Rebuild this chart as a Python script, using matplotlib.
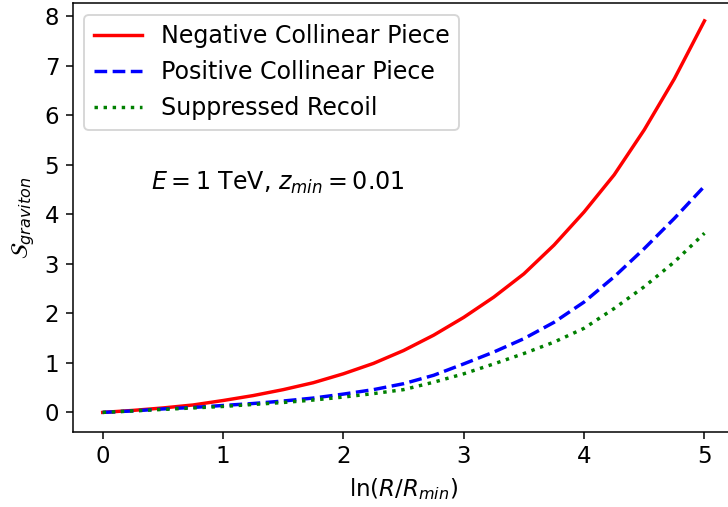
import numpy as np
import matplotlib
matplotlib.use("Agg")
import matplotlib.pyplot as plt

# ln(R/Rmin) grid, step 0.25
x = [0.0, 0.25, 0.5, 0.75, 1.0, 1.25, 1.5, 1.75, 2.0, 2.25, 2.5,
     2.75, 3.0, 3.25, 3.5, 3.75, 4.0, 4.25, 4.5, 4.75, 5.0]

negative = [0.0, 0.04, 0.09, 0.15, 0.24, 0.34, 0.46, 0.60, 0.78, 0.99, 1.25,
            1.56, 1.92, 2.33, 2.80, 3.38, 4.05, 4.80, 5.71, 6.74, 7.91]
positive = [0.0, 0.03, 0.07, 0.10, 0.14, 0.18, 0.23, 0.29, 0.37, 0.46, 0.58,
            0.75, 0.98, 1.22, 1.49, 1.82, 2.23, 2.74, 3.31, 3.92, 4.57]
suppressed = [0.0, 0.03, 0.06, 0.09, 0.12, 0.16, 0.20, 0.25, 0.31, 0.38, 0.46,
              0.61, 0.78, 0.98, 1.19, 1.42, 1.70, 2.10, 2.54, 3.04, 3.62]

plt.rcParams["font.size"] = 12

DPI = 137
fig = plt.figure(figsize=(728 / DPI, 507 / DPI), dpi=DPI)
ax = fig.add_axes([0.0997, 0.1485, 0.9093, 0.8455])

ax.plot(x, negative, color="red", linestyle="-", lw=1.8, label="Negative Collinear Piece")
ax.plot(x, positive, color="blue", linestyle="--", lw=1.8, label="Positive Collinear Piece")
ax.plot(x, suppressed, color="green", linestyle=":", lw=1.8, label="Suppressed Recoil")

ax.set_xlim(-0.25, 5.25)
ax.set_ylim(-0.39, 8.27)
ax.set_xlabel(r"$\ln(R/R_{min})$")
ax.set_ylabel(r"$\mathcal{S}_{graviton}$")

ax.text(0.4, 4.5, r"$E = 1$ TeV, $z_{min} = 0.01$", fontsize=12.5, va="baseline")

ax.legend(loc="upper left", fontsize=12.5)

fig.savefig("out.png", dpi=DPI)
